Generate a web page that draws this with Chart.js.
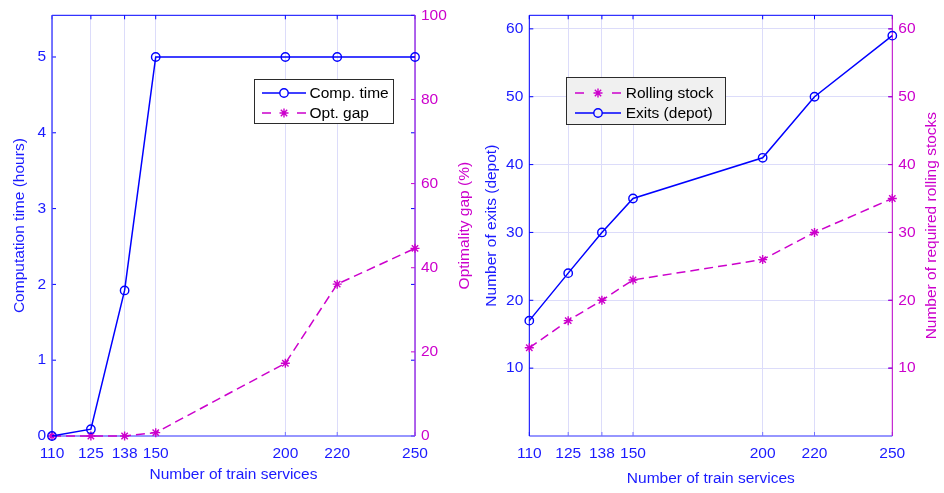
<!DOCTYPE html>
<html>
<head>
<meta charset="utf-8">
<script src="https://cdn.jsdelivr.net/npm/chart.js@4.4.1/dist/chart.umd.min.js"></script>
<style>
  html, body { margin: 0; padding: 0; background: #fff; }
  #wrap { position: relative; width: 944px; height: 493px; overflow: hidden; }
  .pane { position: absolute; top: 0; height: 493px; }
</style>
</head>
<body>
<div id="wrap">
  <div class="pane" style="left:0;width:480px"><canvas id="timeGap" width="480" height="493"></canvas></div>
  <div class="pane" style="left:470px;width:474px"><canvas id="exitsStock" width="474" height="493"></canvas></div>
</div>
<script>
// Instance sizes (number of train services)
const trainServices = [110, 125, 138, 150, 200, 220, 250];

// Left panel: solver effort
const compTimeHours = [0, 0.09, 1.92, 5, 5, 5, 5];
const optGapPct = [0, 0, 0, 0.8, 17.3, 36.1, 44.6];

// Right panel: depot exits and fleet size
const depotExits = [17, 24, 30, 35, 41, 50, 59];
const rollingStock = [13, 17, 20, 23, 26, 30, 35];

// Tick labels
const timeTicks = [0, 1, 2, 3, 4, 5];
const gapTicks = [0, 20, 40, 60, 80, 100];
const countTicks = [10, 20, 30, 40, 50, 60];

const BLUE = '#0000ff';
const BLUE_TXT = '#1a1aff';
const MAGENTA = '#cc00cc';
const GRID = 'rgb(220,220,250)';
const FONT = { family: "'Liberation Sans', Arial, Helvetica, sans-serif", size: 15.5 };

Chart.defaults.font.family = FONT.family;
Chart.defaults.font.size = FONT.size;

const toPoints = (xs, ys) => xs.map((x, i) => ({ x: x, y: ys[i] }));
const fixedTicks = (values) => (scale) => { scale.ticks = values.map(v => ({ value: v })); };

// Draws the box outline and the inward-pointing tick marks
function framePlugin(cfg) {
  return {
    id: 'frame',
    beforeDatasetsDraw(chart) {
      const { ctx, chartArea: a } = chart;
      const L = 4;
      ctx.save();
      const seg = (x1, y1, x2, y2, color, w) => {
        ctx.beginPath();
        ctx.strokeStyle = color;
        ctx.lineWidth = w;
        ctx.moveTo(x1, y1);
        ctx.lineTo(x2, y2);
        ctx.stroke();
      };
      const xs = chart.scales.x;
      xs.ticks.forEach(t => {
        const p = xs.getPixelForValue(t.value);
        seg(p, a.bottom, p, a.bottom - L, cfg.bottom, 1);
        seg(p, a.top, p, a.top + L, cfg.top, 1);
      });
      const yl = chart.scales[cfg.leftId];
      yl.ticks.forEach(t => {
        const p = yl.getPixelForValue(t.value);
        seg(a.left, p, a.left + L, p, cfg.leftTick, 1);
        seg(a.right, p, a.right - L, p, cfg.leftTick, 1);
      });
      const yr = chart.scales[cfg.rightId];
      yr.ticks.forEach(t => {
        const p = yr.getPixelForValue(t.value);
        seg(a.right, p, a.right - L, p, cfg.rightTick, 1);
      });
      seg(a.left, a.top, a.right, a.top, cfg.top, 1);
      seg(a.left, a.bottom, a.right, a.bottom, cfg.bottom, cfg.bottomW);
      seg(a.left, a.top, a.left, a.bottom, cfg.left, cfg.leftW);
      seg(a.right, a.top, a.right, a.bottom, cfg.right, cfg.rightW);
      ctx.restore();
    },
    // right-hand axis title, reading bottom to top
    afterDraw(chart) {
      const { ctx, chartArea: a } = chart;
      const s = chart.scales[cfg.rightId];
      ctx.save();
      ctx.translate(s.right - cfg.rightTitleOffset, (a.top + a.bottom) / 2);
      ctx.rotate(-Math.PI / 2);
      ctx.fillStyle = cfg.rightTitleColor;
      ctx.font = FONT.size + 'px ' + FONT.family;
      ctx.textAlign = 'center';
      ctx.textBaseline = 'middle';
      ctx.fillText(cfg.rightTitle, 0, 0);
      ctx.restore();
    }
  };
}

// Boxed legend placed inside the plot area
function legendPlugin(cfg) {
  return {
    id: 'boxLegend',
    afterDraw(chart) {
      const { ctx } = chart;
      ctx.save();
      ctx.fillStyle = cfg.bg;
      ctx.fillRect(cfg.x, cfg.y, cfg.w, cfg.h);
      ctx.strokeStyle = '#2b2b2b';
      ctx.lineWidth = 1;
      ctx.strokeRect(cfg.x + 0.5, cfg.y + 0.5, cfg.w - 1, cfg.h - 1);
      chart.data.datasets.forEach((ds, i) => {
        const y = cfg.rowY[i];
        ctx.strokeStyle = ds.borderColor;
        ctx.lineWidth = ds.borderWidth;
        ctx.beginPath();
        if (ds.borderDash && ds.borderDash.length) {
          ctx.moveTo(cfg.lineX1, y); ctx.lineTo(cfg.lineX1 + 9, y);
          ctx.moveTo(cfg.lineX2 - 9, y); ctx.lineTo(cfg.lineX2, y);
        } else {
          ctx.moveTo(cfg.lineX1, y); ctx.lineTo(cfg.lineX2, y);
        }
        ctx.stroke();
        ctx.fillStyle = cfg.bg;
        ctx.strokeStyle = ds.pointBorderColor;
        ctx.lineWidth = ds.pointBorderWidth;
        Chart.helpers.drawPoint(ctx, {
          pointStyle: ds.pointStyle, radius: ds.pointRadius, rotation: 0, borderWidth: ds.pointBorderWidth
        }, cfg.markX, y);
        ctx.fillStyle = '#000000';
        ctx.font = FONT.size + 'px ' + FONT.family;
        ctx.textAlign = 'left';
        ctx.textBaseline = 'middle';
        ctx.fillText(ds.label, cfg.textX, y + 0.5);
      });
      ctx.restore();
    }
  };
}

function lineDataset(label, ys, axis, color, dashed) {
  return {
    label: label,
    data: toPoints(trainServices, ys),
    yAxisID: axis,
    borderColor: color,
    borderWidth: 1.5,
    borderDash: dashed ? [9, 5] : [],
    pointStyle: dashed ? 'star' : 'circle',
    pointRadius: dashed ? 4.5 : 4.2,
    pointBorderWidth: 1.4,
    pointBorderColor: color,
    pointBackgroundColor: 'rgba(255,255,255,0)',
    tension: 0,
    fill: false,
    clip: false
  };
}

function xScale(titleBottomPad) {
  return {
    type: 'linear', min: 110, max: 250,
    afterBuildTicks: fixedTicks(trainServices),
    afterFit: s => { s.height = 57; },
    grid: { color: GRID, lineWidth: 1, drawTicks: false },
    border: { display: false },
    ticks: { color: BLUE_TXT, font: FONT, padding: 8, autoSkip: false, maxRotation: 0 },
    title: { display: true, text: 'Number of train services', color: BLUE_TXT, font: FONT,
             padding: { top: 0, bottom: titleBottomPad } }
  };
}

function yScale(pos, min, max, ticks, width, color, title, titlePad, showGrid, hideZero) {
  return {
    type: 'linear', position: pos, min: min, max: max,
    afterBuildTicks: fixedTicks(ticks),
    afterFit: s => { s.width = width; },
    grid: { display: showGrid, color: GRID, lineWidth: 1, drawTicks: false },
    border: { display: false },
    ticks: { color: color, font: FONT, padding: 6,
             callback: v => (hideZero && v === 0) ? '' : String(v) },
    title: { display: pos === 'left', text: title, color: color, font: FONT,
             padding: { top: titlePad, bottom: 0 } }
  };
}

const common = {
  responsive: false,
  animation: false,
  layout: { padding: { top: 10, left: 0, right: 0, bottom: 0 } },
  plugins: { legend: { display: false }, tooltip: { enabled: false } }
};

new Chart(document.getElementById('timeGap'), {
  type: 'line',
  data: {
    datasets: [
      lineDataset('Comp. time', compTimeHours, 'yTime', BLUE, false),
      lineDataset('Opt. gap', optGapPct, 'yGap', MAGENTA, true)
    ]
  },
  options: Object.assign({}, common, {
    scales: {
      x: xScale(9),
      yTime: yScale('left', 0, 5.55, timeTicks, 52, BLUE_TXT, 'Computation time (hours)', 10, false, false),
      yGap: yScale('right', 0, 100, gapTicks, 65, MAGENTA, 'Optimality gap (%)', 6, false, false)
    }
  }),
  plugins: [
    framePlugin({ leftId: 'yTime', rightId: 'yGap', top: BLUE, bottom: '#7373ff', bottomW: 1.5,
                  left: '#4d4dff', leftW: 1.5, right: '#9933e6', rightW: 1.5,
                  leftTick: BLUE, rightTick: MAGENTA,
                  rightTitle: 'Optimality gap (%)', rightTitleColor: MAGENTA, rightTitleOffset: 15 }),
    legendPlugin({ x: 254, y: 79, w: 140, h: 45, bg: '#ffffff', rowY: [93, 113],
                   lineX1: 262, lineX2: 306, markX: 284, textX: 309.5 })
  ]
});

new Chart(document.getElementById('exitsStock'), {
  type: 'line',
  data: {
    datasets: [
      lineDataset('Rolling stock', rollingStock, 'yStock', MAGENTA, true),
      lineDataset('Exits (depot)', depotExits, 'yExits', BLUE, false)
    ]
  },
  options: Object.assign({}, common, {
    scales: {
      x: xScale(5),
      yExits: yScale('left', 0, 62, countTicks, 59.3, BLUE_TXT, 'Number of exits (depot)', 12.7, true, true),
      yStock: yScale('right', 0, 62, countTicks, 51.7, MAGENTA, 'Number of required rolling stocks', 3.3, false, true)
    }
  }),
  plugins: [
    framePlugin({ leftId: 'yExits', rightId: 'yStock', top: BLUE, bottom: '#7373ff', bottomW: 1.5,
                  left: BLUE, leftW: 1, right: '#c000c8', rightW: 1,
                  leftTick: BLUE, rightTick: MAGENTA,
                  rightTitle: 'Number of required rolling stocks', rightTitleColor: MAGENTA, rightTitleOffset: 12.3 }),
    legendPlugin({ x: 96, y: 77, w: 160, h: 48, bg: '#f0f0f0', rowY: [93, 113],
                   lineX1: 105, lineX2: 151, markX: 128, textX: 155.7 })
  ]
});
</script>
</body>
</html>
